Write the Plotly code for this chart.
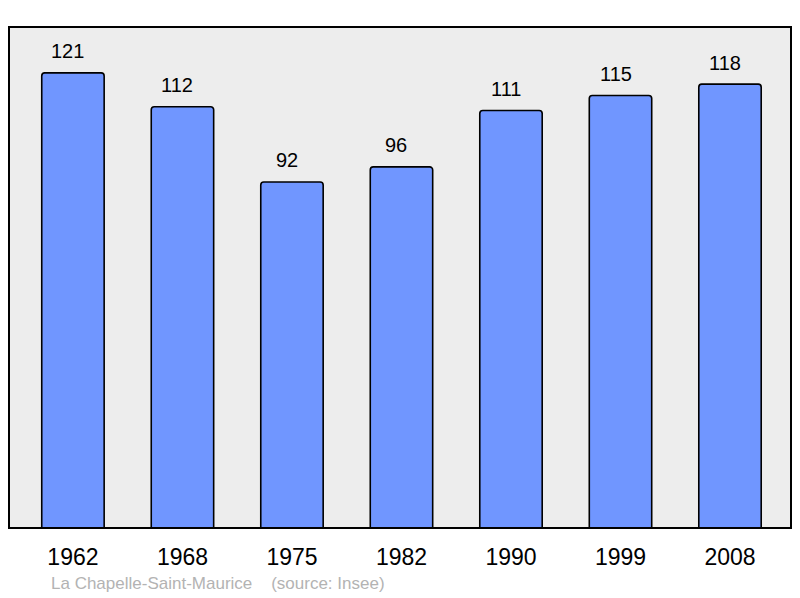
import plotly.graph_objects as go

years = ["1962", "1968", "1975", "1982", "1990", "1999", "2008"]
population = [121, 112, 92, 96, 111, 115, 118]
source_text = "La Chapelle-Saint-Maurice    (source: Insee)"

FONT = "Liberation Sans, Arial, sans-serif"

fig = go.Figure()
fig.add_trace(go.Bar(
    x=years, y=population, width=0.57,
    marker=dict(color="#7096ff", line=dict(color="#000000", width=1.6), cornerradius=3),
    hoverinfo="skip",
))

for i, v in enumerate(population):
    fig.add_annotation(x=i, y=v, text=str(v), showarrow=False, yanchor="middle",
                       yshift=21.5, xshift=-5,
                       font=dict(family=FONT, size=20, color="#000000"))

fig.add_annotation(xref="paper", yref="paper", x=40 / 782, y=-55 / 501,
                   xanchor="left", yanchor="middle", text=source_text, showarrow=False,
                   font=dict(family=FONT, size=17, color="#b3b3b3"))

fig.add_shape(type="rect", xref="paper", yref="paper", x0=0, x1=1, y0=0, y1=1,
              line=dict(color="#000000", width=2), fillcolor="rgba(0,0,0,0)", layer="above")

fig.update_layout(
    width=792, height=590,
    margin=dict(l=1, r=9, t=19, b=70),
    paper_bgcolor="#ffffff", plot_bgcolor="#ededed",
    showlegend=False,
    xaxis=dict(type="category", range=[-0.584, 6.557], showgrid=False, zeroline=False,
               ticks="outside", ticklen=8, tickcolor="rgba(0,0,0,0)",
               tickfont=dict(family=FONT, size=23, color="#000000")),
    yaxis=dict(range=[0, 133.2], showgrid=False, zeroline=False, showticklabels=False, ticks=""),
)

fig.write_html("out.html")
